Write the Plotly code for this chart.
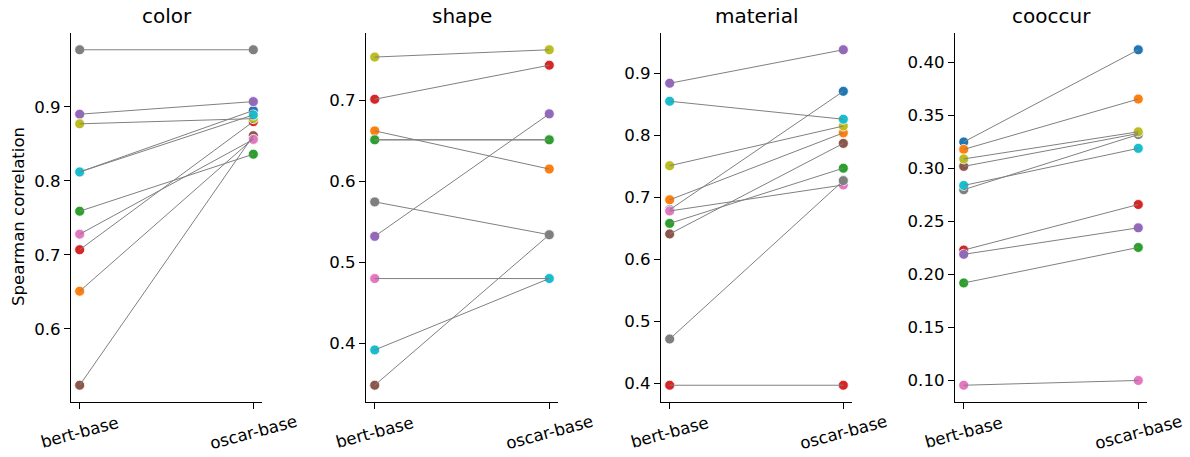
import plotly.graph_objects as go

# ---- data ----
models = ["bert-base", "oscar-base"]
panels = ["color", "shape", "material", "cooccur"]

color_bert = [0.812, 0.651, 0.759, 0.707, 0.890, 0.524, 0.728, 0.977, 0.877, 0.812]
color_oscar = [0.895, 0.857, 0.836, 0.880, 0.907, 0.861, 0.856, 0.977, 0.884, 0.889]

shape_bert = [0.651, 0.662, 0.651, 0.701, 0.532, 0.3485, 0.480, 0.5745, 0.753, 0.392]
shape_oscar = [0.651, 0.615, 0.651, 0.743, 0.683, 0.534, 0.480, 0.534, 0.762, 0.480]

material_bert = [0.680, 0.696, 0.658, 0.397, 0.884, 0.641, 0.678, 0.4715, 0.751, 0.855]
material_oscar = [0.871, 0.804, 0.747, 0.397, 0.938, 0.787, 0.720, 0.727, 0.815, 0.826]

cooccur_bert = [0.325, 0.318, 0.192, 0.223, 0.219, 0.302, 0.0955, 0.280, 0.309, 0.284]
cooccur_oscar = [0.412, 0.3655, 0.2255, 0.266, 0.244, 0.333, 0.100, 0.332, 0.3346, 0.319]

tab10 = ["#1f77b4", "#ff7f0e", "#2ca02c", "#d62728", "#9467bd",
         "#8c564b", "#e377c2", "#7f7f7f", "#bcbd22", "#17becf"]

panel_data = [(color_bert, color_oscar), (shape_bert, shape_oscar),
              (material_bert, material_oscar), (cooccur_bert, cooccur_oscar)]
y_dtick = [0.1, 0.1, 0.1, 0.05]
y_fmt = [".1f", ".1f", ".1f", ".2f"]

# ---- layout geometry ----
W, H = 1190, 457
ml, mr, mt, mb = 71, 43, 33, 55
pw = W - ml - mr
ph = H - mt - mb
px_domains = [(71, 262), (366, 558), (661, 852), (955, 1147)]
domains = [((a - ml) / pw, (b - ml) / pw) for a, b in px_domains]

FONT = "DejaVu Sans"
TICK_SIZE = 16.6
TITLE_SIZE = 20
fig = go.Figure()

annotations = []
layout = {}
for p, (bert, oscar) in enumerate(panel_data):
    xa = "x" if p == 0 else f"x{p+1}"
    ya = "y" if p == 0 else f"y{p+1}"
    # markers first (below lines)
    for i in range(len(bert)):
        fig.add_trace(go.Scatter(
            x=[0, 1], y=[bert[i], oscar[i]], mode="markers",
            marker=dict(color=tab10[i], size=10, line=dict(color="white", width=0.8)),
            xaxis=xa, yaxis=ya, showlegend=False, hoverinfo="y"))
    for i in range(len(bert)):
        fig.add_trace(go.Scatter(
            x=[0, 1], y=[bert[i], oscar[i]], mode="lines",
            line=dict(color="#808080", width=1),
            xaxis=xa, yaxis=ya, showlegend=False, hoverinfo="skip"))
    lo = min(bert + oscar)
    hi = max(bert + oscar)
    pad = (hi - lo) * 0.05
    key = "" if p == 0 else str(p + 1)
    layout["xaxis" + key] = dict(
        domain=list(domains[p]), anchor=ya, range=[-0.05, 1.05],
        tickvals=[0, 1], showticklabels=False, ticks="outside", ticklen=6,
        tickwidth=1.3, tickcolor="black", showline=True, linecolor="black",
        linewidth=1.3, showgrid=False, zeroline=False, fixedrange=True)
    layout["yaxis" + key] = dict(
        domain=[0, 1], anchor=xa, range=[lo - pad, hi + pad],
        dtick=y_dtick[p], tick0=0, tickformat=y_fmt[p], ticks="outside",
        ticklen=6, tickwidth=1.3, tickcolor="black", showline=True,
        linecolor="black", linewidth=1.3, showgrid=False, zeroline=False,
        tickfont=dict(family=FONT, size=TICK_SIZE, color="black"))
    # title
    annotations.append(dict(
        text=panels[p], x=0.5, xref=f"{xa} domain", y=((H - mb) - 16) / ph,
        yref="paper", showarrow=False, xanchor="center", yanchor="middle",
        font=dict(family=FONT, size=TITLE_SIZE, color="black")))
    # x tick labels (rotated, centered on tick)
    for j, m in enumerate(models):
        annotations.append(dict(
            text=m, x=j, xref=xa, y=((H - mb) - 433) / ph, yref="paper",
            showarrow=False, textangle=-15, xanchor="center", yanchor="middle",
            font=dict(family=FONT, size=TICK_SIZE, color="black")))

annotations.append(dict(
    text="Spearman correlation", x=(18 - ml) / pw, xref="paper",
    y=((H - mb) - 217) / ph, yref="paper", showarrow=False, textangle=-90,
    xanchor="center", yanchor="middle",
    font=dict(family=FONT, size=TICK_SIZE, color="black")))

fig.update_layout(
    width=W, height=H, margin=dict(l=ml, r=mr, t=mt, b=mb),
    plot_bgcolor="white", paper_bgcolor="white",
    font=dict(family=FONT, size=TICK_SIZE, color="black"),
    annotations=annotations, showlegend=False, **layout)

fig.write_html("out.html", config={"displayModeBar": False},
               post_script="document.body.style.margin='0';")
